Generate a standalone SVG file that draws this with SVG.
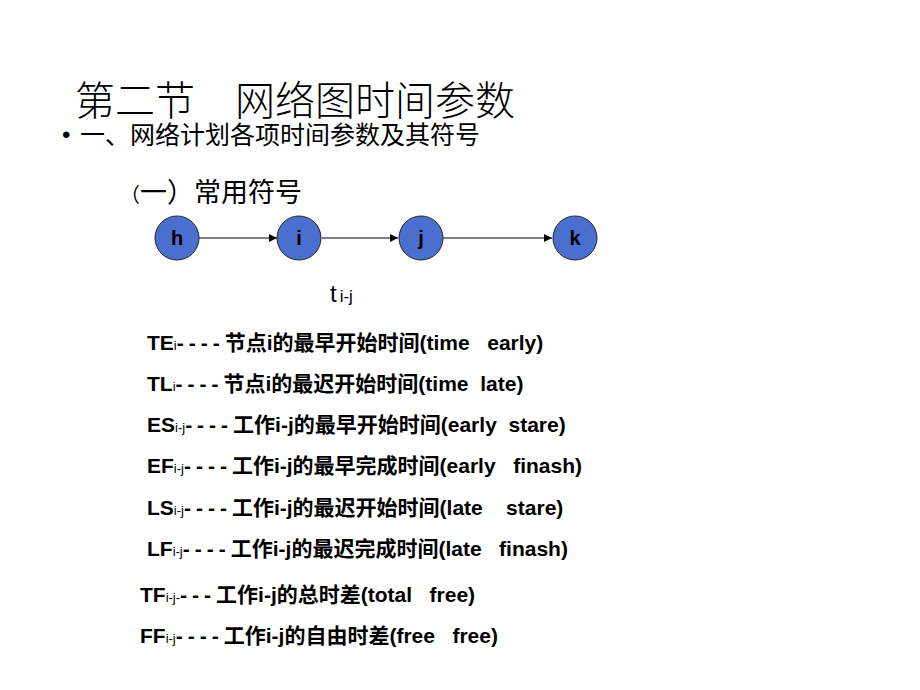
<svg xmlns="http://www.w3.org/2000/svg" width="920" height="690" viewBox="0 0 920 690">
<defs>
<marker id="ar" viewBox="0 0 10 10" refX="10" refY="5" markerWidth="8" markerHeight="8" markerUnits="userSpaceOnUse" orient="auto"><path d="M0,0L10,5L0,10z" fill="#000"/></marker>
<style>
.cjk{font-family:"Liberation Sans","Noto Sans CJK SC",sans-serif}
.t{font-size:21px;font-weight:bold}
.s{font-size:13px;font-weight:normal}
.d{letter-spacing:5px}
.n{fill:#4a6fcf;stroke:#222;stroke-width:1}
.nl{font-size:20px;font-weight:bold;text-anchor:middle}
</style>
</defs>
<rect width="920" height="690" fill="#fff"/>
<text class="cjk" x="75" y="115" font-size="40" font-weight="300">第二节　网络图时间参数</text>
<text class="cjk" x="62" y="143" font-size="24">•</text>
<text class="cjk" x="80" y="144" font-size="25">一、网络计划各项时间参数及其符号</text>
<text class="cjk" x="120" y="202" font-size="27"><tspan font-size="20">（</tspan>一）常用符号</text>
<g id="connectors" stroke="#000" stroke-width="1">
<line x1="199" y1="238" x2="277" y2="238" marker-end="url(#ar)"/>
<line x1="322" y1="238" x2="398" y2="238" marker-end="url(#ar)"/>
<line x1="443" y1="238" x2="552" y2="238" marker-end="url(#ar)"/>
</g>
<g id="node-h"><circle class="n" cx="177" cy="238" r="22"/><text class="cjk nl" x="177" y="245">h</text></g>
<g id="node-i"><circle class="n" cx="299" cy="238" r="22"/><text class="cjk nl" x="299" y="245">i</text></g>
<g id="node-j"><circle class="n" cx="421" cy="238" r="22"/><text class="cjk nl" x="421" y="245">j</text></g>
<g id="node-k"><circle class="n" cx="575" cy="238" r="22"/><text class="cjk nl" x="575" y="245">k</text></g>
<text class="cjk" x="330" y="302" font-size="24">t<tspan font-size="17" dx="3">i-j</tspan></text>
<g class="cjk t">
<text x="147" y="350">TE<tspan class="s">i</tspan><tspan class="d">----</tspan>节点i的最早开始时间(time&#160;&#160;&#160;early)</text>
<text x="147" y="391">TL<tspan class="s">i</tspan><tspan class="d">----</tspan>节点i的最迟开始时间(time&#160;&#160;late)</text>
<text x="147" y="432">ES<tspan class="s">i-j</tspan><tspan class="d">----</tspan>工作i-j的最早开始时间(early&#160;&#160;stare)</text>
<text x="147" y="473">EF<tspan class="s">i-j</tspan><tspan class="d">----</tspan>工作i-j的最早完成时间(early&#160;&#160;&#160;finash)</text>
<text x="147" y="515">LS<tspan class="s">i-j</tspan><tspan class="d">----</tspan>工作i-j的最迟开始时间(late&#160;&#160;&#160;&#160;stare)</text>
<text x="147" y="556">LF<tspan class="s">i-j</tspan><tspan class="d">----</tspan>工作i-j的最迟完成时间(late&#160;&#160;&#160;finash)</text>
<text x="140" y="602">TF<tspan class="s">i-j-</tspan><tspan class="d">---</tspan>工作i-j的总时差(total&#160;&#160;&#160;free)</text>
<text x="140" y="643">FF<tspan class="s">i-j</tspan><tspan class="d">----</tspan>工作i-j的自由时差(free&#160;&#160;&#160;free)</text>
</g>
</svg>
